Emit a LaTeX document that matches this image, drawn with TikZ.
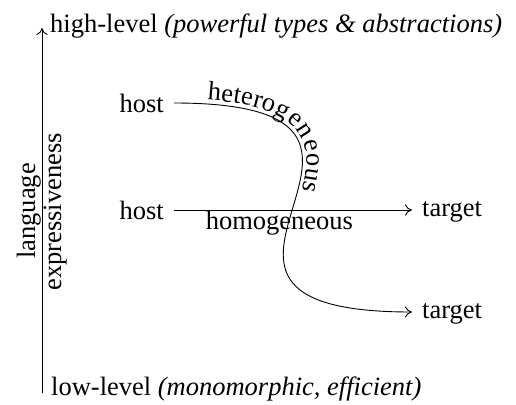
\documentclass[tikz,border=0pt]{standalone}
\usepackage{fontspec}
\setmainfont{Liberation Serif}
\usetikzlibrary{decorations.text, arrows.meta}
\newcommand\figfont{\fontsize{26.5}{26.5}\selectfont}
\begin{document}
\begin{tikzpicture}[x=1pt, y=-1pt,
    every node/.style={font=\figfont},
    endpoint/.style={inner sep=10pt},
    goal/.style={endpoint, text height=18pt, text depth=5.8pt},
    axislabel/.style={inner sep=0pt},
    link/.style={line width=0.9pt, -{Computer Modern Rightarrow[length=7pt, width=11pt]}},
  ]
  \useasboundingbox (0,0) rectangle (516,404);

  % vertical axis: expressiveness of the language
  \coordinate (axisbot) at (42,393);
  \coordinate (axistop) at (42,28);
  \draw[link] (axisbot) -- (axistop);
  \node[axislabel, anchor=base west] (high) at (50,33)
    {high-level \textit{(powerful types \& abstractions)}};
  \node[axislabel, anchor=base west] (low) at (51,395)
    {low-level \textit{(monomorphic, efficient)}};
  \node[axislabel, anchor=base, rotate=90] (lang) at (35,211) {language};
  \node[axislabel, anchor=base, rotate=90] (expr) at (61,212) {expressiveness};

  % hosts and targets
  \node[endpoint, anchor=east] (h1) at (174,103) {host};
  \node[endpoint, anchor=east] (h2) at (174,210) {host};
  \node[goal, anchor=west] (t1) at (412,210) {target};
  \node[goal, anchor=west] (t2) at (412,312) {target};

  % homogeneous: same level
  \draw[link] (h2) -- node[pos=0.443, below, inner sep=1pt] (hom) {homogeneous} (t1);

  % heterogeneous: from high level down to low level
  \draw[link, postaction={decorate, decoration={text along path,
      text={|\figfont|heterogeneous}, raise=4pt,
      text align={left indent=33pt}}}]
    (h1.east) .. controls +(300,0) and +(-300,0) .. (t2.west);
\end{tikzpicture}
\end{document}
